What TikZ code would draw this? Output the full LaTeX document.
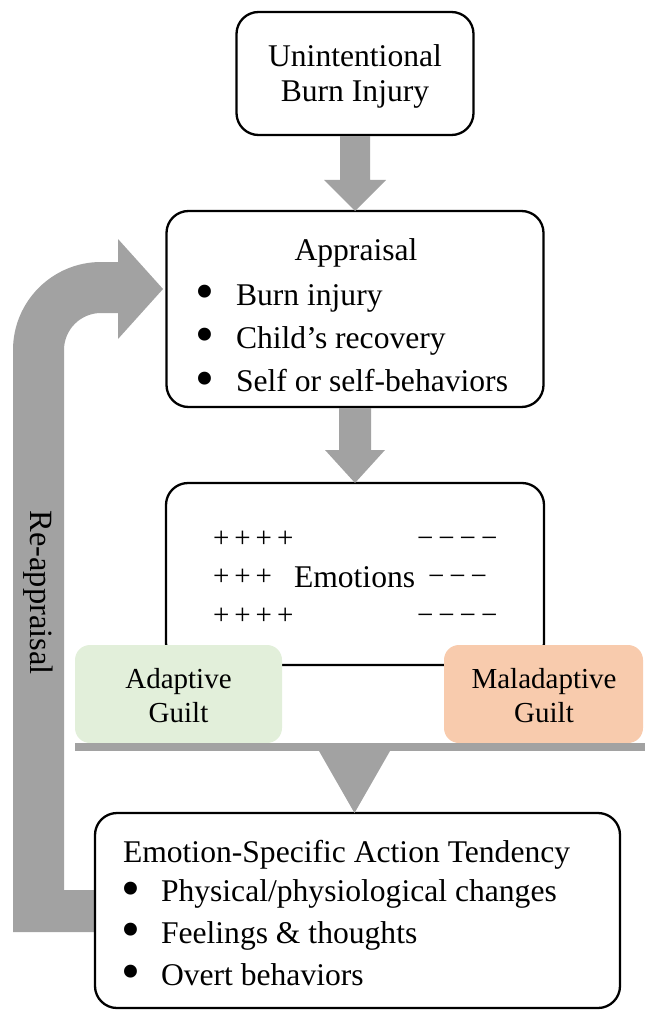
\documentclass[tikz,border=0pt]{standalone}
\usepackage{fontspec}
\setmainfont{Liberation Serif}
\usetikzlibrary{calc}
\definecolor{ag}{RGB}{162,162,162}
\definecolor{gfill}{RGB}{226,239,218}
\definecolor{ofill}{RGB}{248,203,173}
\newcommand\fmain{\fontsize{31.6}{38}\selectfont}
\newcommand\fguilt{\fontsize{29}{35}\selectfont}
\newcommand\fsign{\fontsize{29}{30}\selectfont}
\newcommand\fbul{\fontsize{54}{54}\selectfont}
\newcommand\sg{\hspace{5pt}}
\begin{document}
\begin{tikzpicture}[x=1pt,y=-1pt,
  box/.style={draw, line width=2.3pt, rounded corners=22pt, inner sep=0pt, outer sep=0pt, fill=white},
  gbox/.style={rounded corners=15pt, inner sep=0pt, outer sep=0pt},
  txt/.style={inner sep=0pt, outer sep=0pt, anchor=base, font=\fmain},
  txtl/.style={txt, anchor=base west},
  bul/.style={inner sep=0pt, outer sep=0pt, anchor=base, font=\fbul, text height=24pt, text depth=0pt},
  sgn/.style={inner sep=0pt, outer sep=0pt, anchor=base west, font=\fsign},
  gtxt/.style={inner sep=0pt, outer sep=0pt, anchor=base, font=\fguilt}]
\useasboundingbox (0,0) rectangle (647,1011);

% Re-appraisal feedback arrow
\fill[ag] (13,932) -- (95,932) -- (95,890) -- (64,890) -- (64,350)
  arc[start angle=180, end angle=270, radius=37] -- (118,313) -- (118,339)
  -- (163,289) -- (118,239) -- (118,262) -- (101,262)
  arc[start angle=270, end angle=180, radius=88] -- cycle;
\node[txt, font=\fontsize{32.5}{38}\selectfont, rotate=-90] (re) at (30,592.5) {Re-appraisal};

% boxes
\node[box, minimum width=237pt, minimum height=123pt] (b1) at (355,73.5) {};
\node[box, minimum width=377pt, minimum height=196pt] (b2) at (355,309) {};
\node[box, minimum width=378pt, minimum height=182pt] (b3) at (355,574) {};
\node[box, minimum width=525pt, minimum height=195pt] (b4) at (357.5,910.5) {};

% block arrows
\fill[ag] ($(b1.south)+(-15,1.2)$) -- ($(b1.south)+(15,1.2)$) -- ($(b1.south)+(15,45)$)
  -- ($(b1.south)+(31,45)$) -- (b2.north) -- ($(b1.south)+(-31,45)$) -- ($(b1.south)+(-15,45)$) -- cycle;
\fill[ag] ($(b2.south)+(-16,1.2)$) -- ($(b2.south)+(16,1.2)$) -- ($(b2.south)+(16,43)$)
  -- ($(b2.south)+(30,43)$) -- (b3.north) -- ($(b2.south)+(-30,43)$) -- ($(b2.south)+(-16,43)$) -- cycle;

% guilt boxes
\node[gbox, fill=gfill, minimum width=207pt, minimum height=98pt] (ad) at (178.5,694) {};
\node[gbox, fill=ofill, minimum width=199pt, minimum height=98pt] (mal) at (543.5,694) {};

% bar and triangle
\coordinate (tip) at (354.5,813);
\fill[ag] (75,743) rectangle (645,751);
\fill[ag] (319,751) -- (390,751) -- (tip) -- cycle;

% texts box 1
\node[txt] (t1a) at (355,67) {Unintentional};
\node[txt] (t1b) at (355,102) {Burn Injury};

% box 2
\node[txt] (t2) at (356,260) {Appraisal};
\node[bul] (u1) at (205,309.5) {•};
\node[bul] (u2) at (205,352.8) {•};
\node[bul] (u3) at (205,396.2) {•};
\node[txtl] (l1) at (236,305) {Burn injury};
\node[txtl] (l2) at (236,348.3) {Child’s recovery};
\node[txtl] (l3) at (236,391.7) {Self or self-behaviors};

% box 3
\node[sgn] (p1) at (213,547.5) {+\sg+\sg+\sg+};
\node[sgn] (p2) at (213,585.5) {+\sg+\sg+};
\node[sgn] (p3) at (213,624) {+\sg+\sg+\sg+};
\node[txtl] (emo) at (294,587) {Emotions};
\node[sgn] (m1) at (417,547.5) {−\sg−\sg−\sg−};
\node[sgn] (m2) at (428,585.5) {−\sg−\sg−};
\node[sgn] (m3) at (417,624) {−\sg−\sg−\sg−};

% guilt texts
\node[gtxt] (ga1) at (178.5,688) {Adaptive};
\node[gtxt] (ga2) at (178.5,722) {Guilt};
\node[gtxt] (gm1) at (544,688) {Maladaptive};
\node[gtxt] (gm2) at (544,722) {Guilt};

% box 4
\node[txtl] (t4) at (123,862.7) {Emotion-Specific Action Tendency};
\node[bul] (v1) at (131,906.2) {•};
\node[bul] (v2) at (131,947.5) {•};
\node[bul] (v3) at (131,989.5) {•};
\node[txtl] (k1) at (161,901.7) {Physical/physiological changes};
\node[txtl] (k2) at (161,943) {Feelings \& thoughts};
\node[txtl] (k3) at (161,985) {Overt behaviors};
\end{tikzpicture}
\end{document}
